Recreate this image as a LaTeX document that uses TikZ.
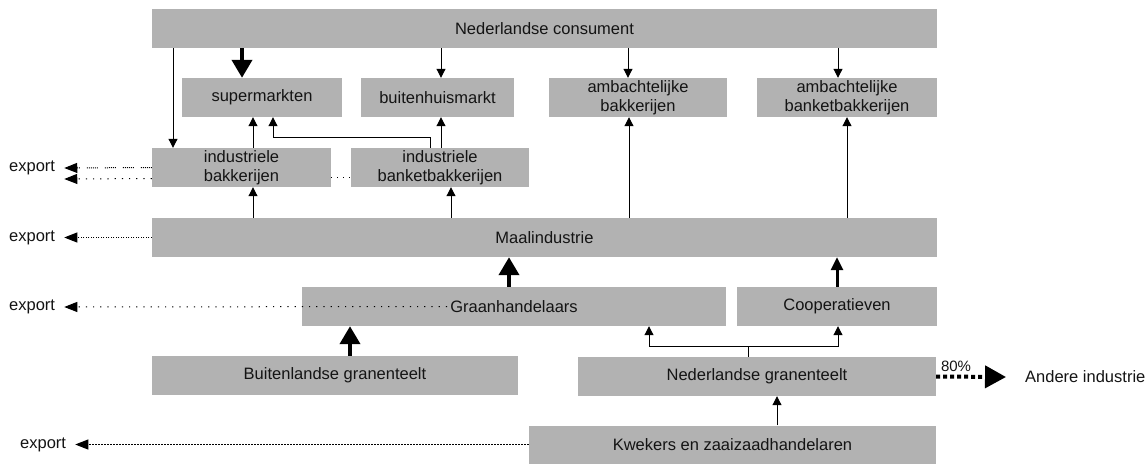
\documentclass[tikz,border=0pt]{standalone}
\usepackage{fontspec}
\setmainfont{Liberation Sans}
\usetikzlibrary{arrows.meta}
\definecolor{boxgray}{RGB}{178,178,178}
\definecolor{txt}{RGB}{20,20,20}
\newcommand\mfs{\fontsize{16.5}{19}\selectfont}
\newcommand\sfs{\fontsize{15}{17}\selectfont}
\begin{document}
\begin{tikzpicture}[x=1pt,y=-1pt,
  box/.style={fill=boxgray, inner sep=0pt, align=center, text=txt, font=\mfs, minimum height=39pt},
  lbl/.style={inner sep=0pt, text=txt, font=\mfs},
  arr/.style={line width=1pt, -{Triangle[width=9pt,length=9pt]}},
  bigarr/.style={line width=4pt, -{Triangle[width=20pt,length=18pt]}},
  midarr/.style={line width=3pt, -{Triangle[width=12pt,length=13pt]}},
  exphead/.style={-{Triangle[width=10pt,length=13pt]}},
  expdense/.style={exphead, line width=1pt, dash pattern=on 1pt off 1.5pt},
  expgroup/.style={exphead, line width=1pt, dash pattern=on 1pt off 1pt on 1pt off 1pt on 1pt off 1pt on 1pt off 1pt on 1pt off 1pt on 1pt off 7pt},
  expsparse/.style={exphead, line width=1pt, dash pattern=on 1.2pt off 6pt},
  sparse/.style={line width=1pt, dash pattern=on 1pt off 5pt},
  expdash/.style={exphead, line width=1pt, dash pattern=on 2pt off 1pt},
  dotarr/.style={line width=4pt, dash pattern=on 4pt off 3pt, -{Triangle[width=22pt,length=21pt]}}
]
\useasboundingbox (0,0) rectangle (1147,463);

% boxes
\node[box, minimum width=785pt] (cons) at (544.5,28.5) {Nederlandse consument};
\node[box, minimum width=160pt] (super) at (262,97.5) {supermarkten};
\node[box, minimum width=153pt] (buiten) at (437.5,97.5) {buitenhuismarkt};
\node[box, minimum width=178pt] (ambak) at (638,97.5) {ambachtelijke\\bakkerijen};
\node[box, minimum width=180pt] (ambank) at (847,97.5) {ambachtelijke\\banketbakkerijen};
\node[box, minimum width=179pt] (indbak) at (241.5,167.5) {industriele\\bakkerijen};
\node[box, minimum width=178pt] (indbank) at (440,167.5) {industriele\\banketbakkerijen};
\node[box, minimum width=785pt] (maal) at (544.5,237.5) {Maalindustrie};
\node[box, minimum width=424pt] (graan) at (514,306.5) {Graanhandelaars};
\node[box, minimum width=200pt] (coop) at (837,306.5) {Cooperatieven};
\node[box, minimum width=366pt] (buitgr) at (335,375.5) {Buitenlandse granenteelt};
\node[box, minimum width=358pt] (nedgr) at (757,376.5) {Nederlandse granenteelt};
\node[box, minimum width=407pt, minimum height=38pt] (kwek) at (732.5,444.5) {Kwekers en zaaizaadhandelaren};

% free labels
\node[lbl, anchor=west] (exp1) at (9,168) {export};
\node[lbl, anchor=west] (exp2) at (9,237.5) {export};
\node[lbl, anchor=west] (exp3) at (9,307) {export};
\node[lbl, anchor=west] (exp4) at (20,444.5) {export};
\node[lbl, anchor=west] (andere) at (1025,377) {Andere industrie};
\node[inner sep=0pt, text=txt, font=\sfs] (pct) at (956,366) {80\%};

% consument arrows
\draw[arr] ([xshift=-371.5pt]cons.south) -- ([xshift=-68.5pt]indbak.north);
\draw[bigarr] ([xshift=-302.5pt]cons.south) -- ([xshift=-20pt]super.north);
\draw[arr] ([xshift=-103.5pt]cons.south) -- ([xshift=3.5pt]buiten.north);
\draw[arr] ([xshift=83.5pt]cons.south) -- ([xshift=-10pt]ambak.north);
\draw[arr] ([xshift=293.5pt]cons.south) -- ([xshift=-9pt]ambank.north);

% industrial bakeries to outlets
\draw[arr] ([xshift=11.5pt]indbak.north) -- ([xshift=-9pt]super.south);
\draw[arr] ([xshift=-10pt]indbank.north) -- ++(0,-10) -| ([xshift=11pt]super.south);
\draw[arr] ([xshift=1pt]indbank.north) -- ([xshift=3.5pt]buiten.south);
\draw[sparse] ([yshift=-10pt]indbak.east) -- ([yshift=-10pt]indbank.west);

% maalindustrie up
\draw[arr] ([xshift=-291.5pt]maal.north) -- ([xshift=11.5pt]indbak.south);
\draw[arr] ([xshift=-93.5pt]maal.north) -- ([xshift=11pt]indbank.south);
\draw[arr] ([xshift=84.5pt]maal.north) -- ([xshift=-9pt]ambak.south);
\draw[arr] ([xshift=302.5pt]maal.north) -- (ambank.south);

% into maalindustrie
\draw[bigarr] ([xshift=-5pt]graan.north) -- ([xshift=-35.5pt]maal.south);
\draw[midarr] (coop.north) -- ([xshift=292.5pt]maal.south);

% growers
\draw[bigarr] ([xshift=15pt]buitgr.north) -- ([xshift=-164pt]graan.south);
\draw[line width=1pt] ([xshift=-9pt]nedgr.north) -- ++(0,-10) coordinate (split);
\draw[arr] (split) -| ([xshift=135pt]graan.south);
\draw[arr] (split) -| ([xshift=1pt]coop.south);
\draw[arr] ([xshift=44.5pt]kwek.north) -- ([xshift=20pt]nedgr.south);
\draw[dotarr] (nedgr.east) -- ([xshift=-19pt]andere.west);

% exports
\draw[expgroup] (indbak.west) -- ([xshift=9pt]exp1.east);
\draw[expsparse] ([yshift=-11pt]indbak.west) -- ([xshift=9pt,yshift=-11pt]exp1.east);
\draw[expdense] (maal.west) -- ([xshift=9pt]exp2.east);
\draw[expsparse] ([xshift=-67pt]graan.center) -- ([xshift=9pt]exp3.east);
\draw[expdash] (kwek.west) -- ([xshift=9pt]exp4.east);
\end{tikzpicture}
\end{document}
